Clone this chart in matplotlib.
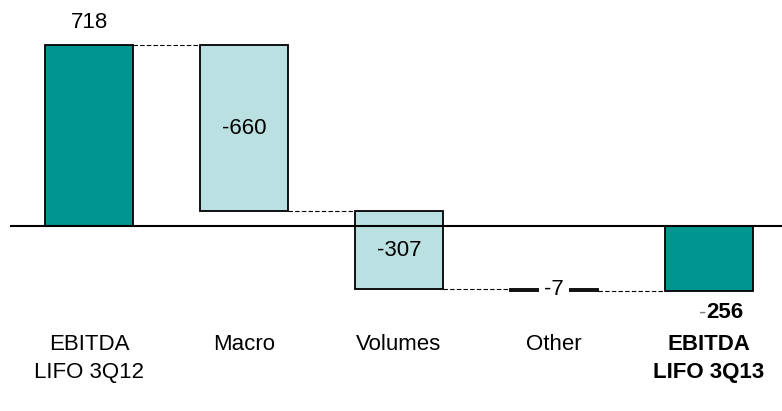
import matplotlib.pyplot as plt
from matplotlib.patches import Rectangle
import matplotlib.transforms as mtransforms

categories = ["EBITDA\nLIFO 3Q12", "Macro", "Volumes", "Other", "EBITDA\nLIFO 3Q13"]
values = [718, -660, -307, -7, -256]
is_total = [True, False, False, False, True]
value_labels = ["718", "-660", "-307", "-7", "-256"]

dark = "#00968F"
light = "#BBE0E2"
font = ["Liberation Sans", "DejaVu Sans"]

W, H = 782, 411
fig = plt.figure(figsize=(W / 100, H / 100), dpi=100)
ax = fig.add_axes([0, 0, 1, 1])
ax.set_axis_off()

# pixel layout: bar centres 155 px apart, zero line at y=226
x0, dx = 89, 155
y0, scale = 226, 0.2525
ax.set_xlim(-x0 / dx, (W - x0) / dx)
ax.set_ylim(-(H - y0) / scale, y0 / scale)

def ypix(p):
    return 1 - p / H

blend = mtransforms.blended_transform_factory(ax.transData, ax.transAxes)

width = 88 / dx
running = 0
bottoms, tops = [], []
for i, v in enumerate(values):
    if is_total[i]:
        b, t = 0, v
        running = v
    else:
        b, t = running, running + v
        running += v
    bottoms.append(b)
    tops.append(t)
    ax.add_patch(Rectangle((i - width / 2, min(b, t)), width, abs(t - b),
                           facecolor=dark if is_total[i] else light,
                           edgecolor="black", linewidth=1.3, zorder=3))

# dashed connectors between consecutive bars
for i in range(len(values) - 1):
    level = tops[i]
    ax.plot([i + width / 2, i + 1 - width / 2], [level, level],
            color="black", linewidth=0.8, linestyle=(0, (4, 2)), zorder=2)

ax.axhline(0, xmin=11 / W, xmax=1, color="black", linewidth=1.5, zorder=4)

# value labels
ax.text(0, ypix(23), value_labels[0], transform=blend, ha="center", va="center",
        fontsize=16, family=font)
ax.text(1, (bottoms[1] + tops[1]) / 2, value_labels[1], ha="center", va="center",
        fontsize=16, family=font, zorder=5)
ax.text(2, (bottoms[2] + tops[2]) / 2, value_labels[2], ha="center", va="center",
        fontsize=16, family=font, zorder=5)
ax.text(3, (bottoms[3] + tops[3]) / 2, value_labels[3], ha="center", va="center",
        fontsize=16, family=font, zorder=5,
        bbox=dict(facecolor="white", edgecolor="none", pad=4))
ax.annotate("-", (4, ypix(313)), xycoords=blend, xytext=(-3, 0),
            textcoords="offset pixels", ha="right", va="center",
            fontsize=16, family=font, color="#808080")
ax.annotate(value_labels[4][1:], (4, ypix(313)), xycoords=blend, xytext=(-3, 0),
            textcoords="offset pixels", ha="left", va="center",
            fontsize=16, family=font, fontweight="bold")

# category labels, first lines aligned
for i, c in enumerate(categories):
    ax.text(i, ypix(334), c, transform=blend, ha="center", va="top",
            fontsize=16, family=font, linespacing=1.45,
            fontweight="bold" if i == len(values) - 1 else "normal")

fig.savefig("out.png", dpi=100)
